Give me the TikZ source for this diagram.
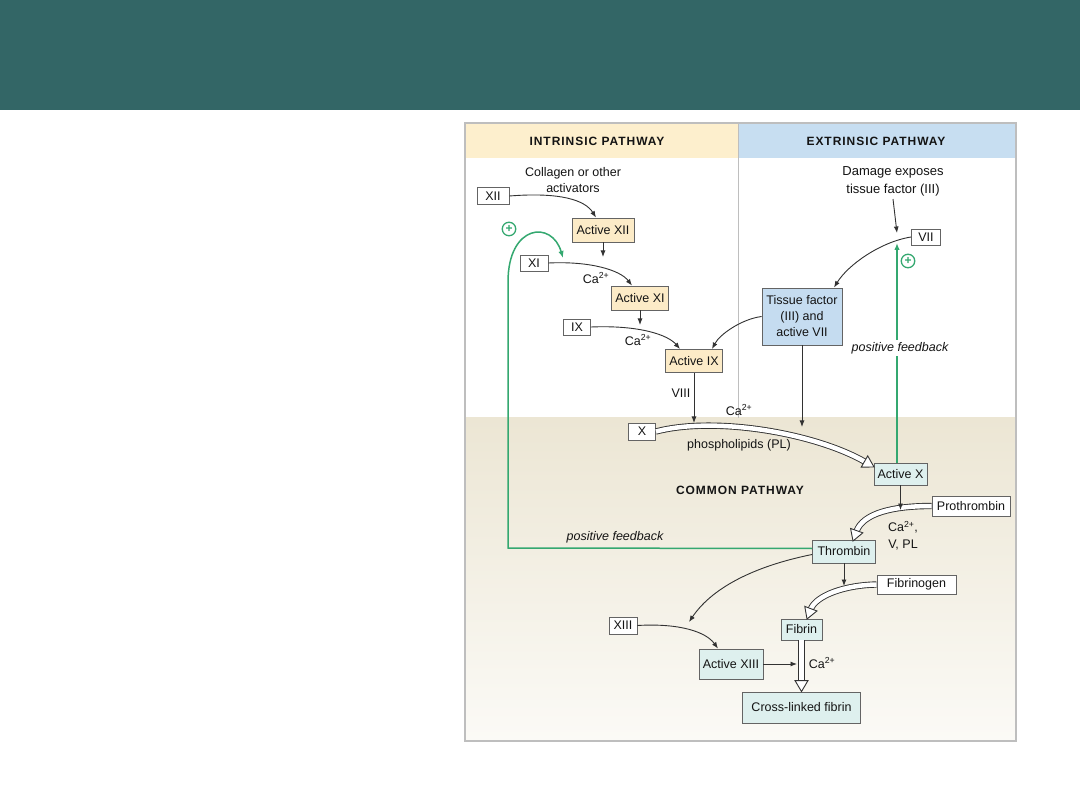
\documentclass[tikz,border=0pt]{standalone}
\usepackage{fontspec}
\setmainfont{Liberation Sans}
\newfontfamily\hdrfont[LetterSpace=8]{Liberation Sans}
\usetikzlibrary{arrows.meta,calc}
\definecolor{banner}{RGB}{51,102,102}
\definecolor{hdryel}{RGB}{253,239,205}
\definecolor{hdrblue}{RGB}{199,222,241}
\definecolor{boxyel}{RGB}{252,235,199}
\definecolor{boxblue}{RGB}{197,220,240}
\definecolor{boxcyan}{RGB}{222,240,238}
\definecolor{comtop}{RGB}{236,230,212}
\definecolor{combot}{RGB}{251,250,246}
\definecolor{framegray}{RGB}{190,190,190}
\definecolor{edgegray}{RGB}{100,100,100}
\definecolor{linegray}{RGB}{50,50,50}
\definecolor{fbgreen}{RGB}{52,168,112}
\definecolor{txt}{RGB}{20,20,20}
\newcommand{\hhead}[2]{%
  \path ($(#1)!11pt!(#2)$) coordinate (hb);
  \filldraw[hheadst] (#1) -- ($(hb)!6.5pt!90:(#1)$) -- ($(hb)!6.5pt!-90:(#1)$) -- cycle;}
\begin{document}
\begin{tikzpicture}[x=1pt,y=-1pt,
  every node/.style={text=txt},
  box/.style={draw=edgegray, line width=0.9pt, fill=white, inner sep=0pt,
    font=\fontsize{12.5}{14}\selectfont, align=center},
  ybox/.style={box, fill=boxyel},
  bbox/.style={box, fill=boxblue},
  cbox/.style={box, fill=boxcyan},
  lbl/.style={font=\fontsize{12.5}{15}\selectfont, align=center, inner sep=1pt},
  hdr/.style={font=\hdrfont\bfseries\fontsize{12}{14}\selectfont, inner sep=0pt},
  conn/.style={draw=linegray, line width=0.9pt, -{Latex[length=6.5pt,width=5pt]}},
  fb/.style={draw=fbgreen, line width=1.5pt},
  fbarr/.style={fb, -{Latex[length=7pt,width=5.5pt]}},
  plus/.style={circle, draw=fbgreen, line width=1.3pt, minimum size=13.5pt, inner sep=0pt,
    text=fbgreen, font=\bfseries\fontsize{12}{12}\selectfont},
  hshaft/.style={draw=linegray, line width=0.9pt, double=white, double distance=4.5pt},
  hheadst/.style={draw=linegray, line width=0.9pt, fill=white, line join=miter}
]
\useasboundingbox (0,0) rectangle (1080,810);
\fill[white] (0,0) rectangle (1080,810);
% banner
\fill[banner] (0,0) rectangle (1080,110);
% panels
\fill[white] (465,123) rectangle (1016,741);
\fill[hdryel] (466,124) rectangle (738.5,158);
\fill[hdrblue] (738.5,124) rectangle (1015,158);
\shade[top color=comtop, bottom color=combot] (466,418) rectangle (1015,740);
\draw[framegray, line width=1.5pt] (738.5,124) -- (738.5,418);
\draw[framegray, line width=2.5pt] (465,123) rectangle (1016,741);

% headers
\node[hdr] (hi) at (597,141) {INTRINSIC PATHWAY};
\node[hdr] (he) at (876,141) {EXTRINSIC PATHWAY};
\node[hdr] (hc) at (740,490) {COMMON PATHWAY};

% nodes intrinsic
\node[lbl, font=\fontsize{12.5}{16}\selectfont] (coll) at (573,180) {Collagen or other\\activators};
\node[box, minimum width=32pt, minimum height=17pt] (xii) at (493,196) {XII};
\node[ybox, minimum width=62pt, minimum height=24pt] (axii) at (603,230) {Active XII};
\node[box, minimum width=28pt, minimum height=16pt] (xi) at (534,263) {XI};
\node[lbl] (ca1) at (596,278) {Ca\textsuperscript{2+}};
\node[ybox, minimum width=57pt, minimum height=24pt] (axi) at (640,298) {Active XI};
\node[box, minimum width=27pt, minimum height=16pt] (ix) at (577,327) {IX};
\node[lbl] (ca2) at (638,340) {Ca\textsuperscript{2+}};
\node[ybox, minimum width=57pt, minimum height=23pt] (aix) at (694,361) {Active IX};
\node[lbl] (viii) at (681,393) {VIII};

% extrinsic
\node[lbl, font=\fontsize{13}{18}\selectfont] (dam) at (893,181) {Damage exposes\\tissue factor (III)};
\node[box, minimum width=29pt, minimum height=16pt] (vii) at (926,237) {VII};
\node[bbox, minimum width=80pt, minimum height=57pt, font=\fontsize{12.5}{16}\selectfont] (tf) at (802,316.5) {Tissue factor\\(III) and\\active VII};

% common
\node[lbl] (ca3) at (739,410) {Ca\textsuperscript{2+}};
\node[box, minimum width=27pt, minimum height=17pt] (xx) at (642,431.5) {X};
\node[lbl] (pl) at (739,445) {phospholipids (PL)};
\node[cbox, minimum width=53pt, minimum height=22pt] (ax) at (900.5,474) {Active X};
\node[box, minimum width=78pt, minimum height=20pt] (pro) at (971,506) {Prothrombin};
\node[lbl, font=\fontsize{12.5}{17}\selectfont] (ca4) at (903,536) {Ca\textsuperscript{2+},\\V, PL};
\node[cbox, minimum width=63pt, minimum height=23pt] (th) at (844,551.5) {Thrombin};
\node[box, minimum width=79pt, minimum height=19pt] (fg) at (916.5,584.5) {Fibrinogen};
\node[box, minimum width=28pt, minimum height=17pt] (xiii) at (623,625.5) {XIII};
\node[cbox, minimum width=41pt, minimum height=21pt] (fi) at (801.5,629.5) {Fibrin};
\node[cbox, minimum width=64pt, minimum height=30pt] (axiii) at (731,664) {Active XIII};
\node[lbl] (ca5) at (822,663) {Ca\textsuperscript{2+}};
\node[cbox, minimum width=118pt, minimum height=31pt] (cl) at (801.5,707.5) {Cross-linked fibrin};

% green feedback (left)
\coordinate (g1) at (508,548);
\coordinate (g2) at (508,282);
\coordinate (gt) at (563,258);
\draw[fbarr] ([yshift=3pt]th.west) -- (g1) -- (g2) .. controls (508,224) and (552,220) .. (gt);
\node[plus] (p1) at (509,229) {+};
\node[lbl, font=\itshape\fontsize{12.5}{14}\selectfont] (pfb1) at (615,537) {positive feedback};
% green feedback (right)
\coordinate (gt2) at (897,243);
\draw[fbarr] ([xshift=-3.5pt]ax.north) -- (gt2);
\node[plus] (p2) at (908,261) {+};
\node[lbl, fill=white, inner sep=2pt, font=\itshape\fontsize{12.5}{14}\selectfont] (pfb2) at (900,348) {positive feedback};

% hollow arrows
\coordinate (h1) at (874,467);
\draw[hshaft] (xx.east) .. controls (715,416) and (815,433) .. ($(h1)!10pt!(815,433)$);
\hhead{h1}{815,433}
\coordinate (h2) at (853,541);
\draw[hshaft] (pro.west) .. controls (893,506) and (863,513) .. ($(h2)!10pt!(863,513)$);
\hhead{h2}{863,513}
\coordinate (h3) at (807,619);
\draw[hshaft] (fg.west) .. controls (846,585) and (816,595) .. ($(h3)!10pt!(816,595)$);
\hhead{h3}{816,595}
\draw[hshaft] (fi.south) -- ($(cl.north)!10pt!(fi.south)$);
\hhead{cl.north}{fi.south}

% black connectors
\coordinate (e1) at (603,257);
\coordinate (e2) at (640,325);
\coordinate (e3) at (694,423);
\coordinate (e4) at (802,427);
\coordinate (e5) at (897,233);
\coordinate (e6) at (900.5,510);
\coordinate (e7) at (844,586);
\coordinate (e8) at (689,622);
\coordinate (e9) at (797,664);
\draw[conn] (xii.east) .. controls (560,192) and (585,200) .. ([xshift=-7pt]axii.north);
\draw[conn] (axii.south) -- (e1);
\draw[conn] (xi.east) .. controls (590,261) and (620,270) .. ([xshift=-8pt]axi.north);
\draw[conn] (axi.south) -- (e2);
\draw[conn] (ix.east) .. controls (640,325) and (668,335) .. ([xshift=-14pt]aix.north);
\draw[conn] (tf.west) .. controls (742,319) and (720,334) .. ([xshift=18pt]aix.north);
\draw[conn] (aix.south) -- (e3);
\draw[conn] (tf.south) -- (e4);
\draw[conn] ([yshift=-2pt]dam.south) -- (e5);
\draw[conn] (vii.west) .. controls (880,242) and (848,265) .. ([xshift=32pt]tf.north);
\draw[conn] (ax.south) -- (e6);
\draw[conn] (th.south) -- (e7);
\draw[conn] ([yshift=-3pt]th.west) .. controls (760,565) and (714,585) .. (e8);
\draw[conn] (xiii.east) .. controls (680,623) and (706,632) .. ([xshift=-13pt]axiii.north);
\draw[conn] (axiii.east) -- (e9);
\end{tikzpicture}
\end{document}
